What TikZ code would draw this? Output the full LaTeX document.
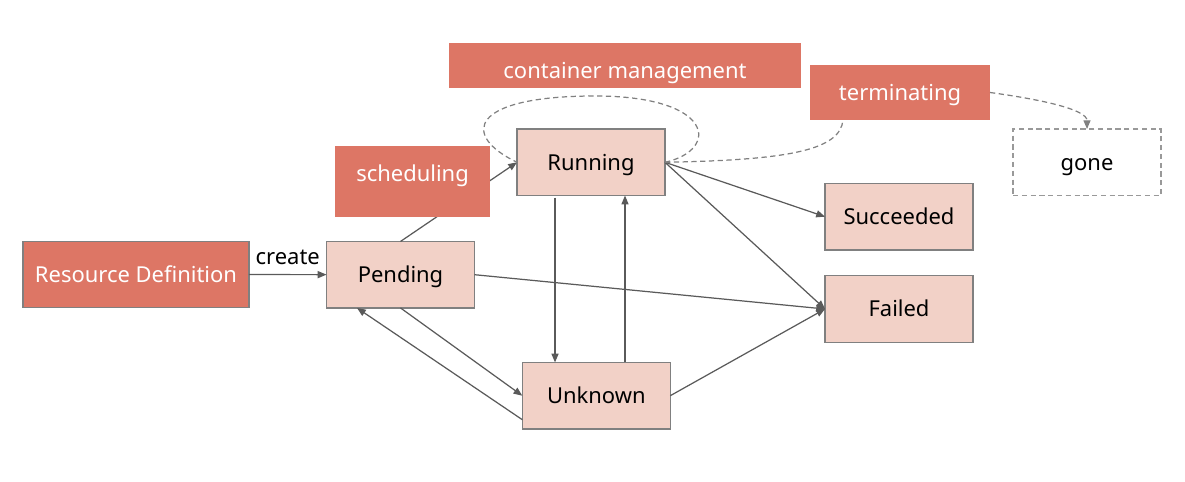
\documentclass[tikz,border=0pt]{standalone}
\usepackage{fontspec}
\setmainfont{Noto Sans}
\usepackage{tikz}
\usetikzlibrary{arrows.meta}
\definecolor{lachs}{RGB}{221,118,101}
\definecolor{rosa}{RGB}{242,209,199}
\definecolor{rahmen}{RGB}{128,128,128}
\definecolor{pfeil}{RGB}{90,90,90}

\begin{document}
\begin{tikzpicture}[x=0.02cm, y=-0.02cm,
  zustand/.style={draw=rahmen, fill=rosa, line width=0.8pt,
    minimum width=2.96cm, minimum height=1.33cm, inner sep=0pt, outer sep=0pt,
    text height=0.9em, text depth=0pt, font=\fontsize{12.5}{15}\selectfont},
  phase/.style={fill=lachs, text=white, inner sep=0pt, outer sep=0pt,
    text height=0.9em, text depth=0pt, font=\fontsize{12.5}{15}\selectfont},
  pfl/.style={draw=pfeil, line width=0.7pt, -{Triangle[length=5pt,width=4pt]}},
  gestr/.style={draw=rahmen, line width=0.7pt, dash pattern=on 3pt off 2pt}]

\useasboundingbox (0,0) rectangle (1185,482);

% ── Zustände ─────────────────────────────────────────────────────────
\foreach \nm/\x/\y/\txt in {
  pend/400.5/274.7/Pending,
  run/591/162.3/Running,
  unk/596.3/395.7/Unknown,
  succ/899/216.7/Succeeded,
  fail/899/309/Failed}
{
  \node[zustand] (\nm) at (\x,\y) {\txt};
}
\node[zustand, fill=white, draw=rahmen!80, dash pattern=on 3pt off 2pt]
  (gone) at (1087,162.3) {gone};

% ── Definition + Phasen ──────────────────────────────────────────────
\node[phase, draw=rahmen, line width=0.8pt, minimum width=4.52cm, minimum height=1.33cm]
  (res) at (136,274.5) {Resource Definition};
\node[phase, minimum width=7.04cm, minimum height=0.9cm, text height=14.6pt]
  (cont) at (625,65.2) {container management};
\node[phase, minimum width=3.6cm, minimum height=1.1cm]
  (term) at (900,92.5) {terminating};

% ── Übergänge ────────────────────────────────────────────────────────
\draw[pfl] (res) -- node[above=3.6pt, inner sep=2pt, text height=0.714em, text depth=0pt,
  font=\fontsize{12.5}{15}\selectfont] {create} (pend);
\draw[pfl] (pend.north) -- (run.west);
\draw[pfl] (run.east) -- (succ.west);
\draw[pfl] (run.east) -- (fail.west);
\draw[pfl] (pend.east) -- (fail.west);
\draw[pfl] (unk.east) -- (fail.west);
\draw[pfl] ([xshift=-0.72cm,yshift=-0.04cm]run.south) -- ([xshift=-0.72cm]run.south |- unk.north);
\draw[pfl] ([xshift=0.574cm]unk.north) -- ([xshift=0.574cm]unk.north |- run.south);
\draw[pfl] (pend.south) -- (unk.west);
\draw[pfl] ([yshift=-0.48cm]unk.west) -- ([xshift=-0.87cm]pend.south);

% ── gestrichelte Wege ────────────────────────────────────────────────
\draw[gestr] (run.east) .. controls (720,150) and (715,96) .. (595,96)
  .. controls (470,96) and (460,135) .. (run.west);
\draw[gestr] (run.east) .. controls (790,160) and (840,150) .. ([xshift=-1.14cm]term.south);
\draw[gestr, -{Triangle[length=5pt,width=4pt]}]
  (term.east) .. controls (1045,100) and (1087,110) .. (gone.north);

% ── scheduling über der Linie ────────────────────────────────────────
\node[phase, minimum width=3.1cm, minimum height=1.41cm, text depth=8.9pt]
  (sched) at (412.5,181.3) {scheduling};

\end{tikzpicture}
\end{document}
